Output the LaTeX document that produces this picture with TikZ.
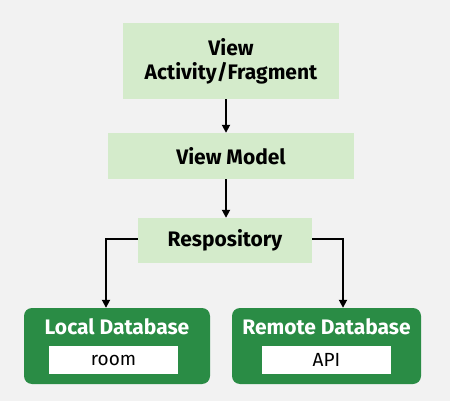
\documentclass[tikz,border=0pt]{standalone}
\usepackage{fontspec}
\setmainfont{Fira Sans}
\usetikzlibrary{arrows.meta,positioning}
\definecolor{pagebg}{HTML}{F2F2F2}
\definecolor{lightgreen}{HTML}{D4EBCB}
\definecolor{darkgreen}{HTML}{2A8C45}

\begin{document}
\begin{tikzpicture}[
    x=1pt, y=-1pt,
    >={Triangle[width=8pt,length=8pt]},
    layer/.style={
      fill=lightgreen,
      align=center,
      inner sep=0pt,
      font=\fontsize{21}{24}\selectfont\bfseries
    },
    store/.style={
      fill=darkgreen,
      rounded corners=8pt,
      inner sep=0pt,
      minimum height=76pt
    },
    storetitle/.style={
      text=white,
      inner sep=0pt,
      font=\fontsize{21}{24}\selectfont\bfseries
    },
    lib/.style={
      fill=white,
      inner sep=0pt,
      minimum width=129pt,
      minimum height=28pt,
      font=\fontsize{19}{22}\selectfont
    },
    flow/.style={->, line width=1.8pt, draw=black}
  ]
    \useasboundingbox[fill=pagebg] (0,0) rectangle (450,401);

    \node[layer, minimum width=216pt, minimum height=76pt] (view) at (231,61) {View\\Activity/Fragment};
    \node[layer, minimum width=246pt, minimum height=46pt] (vm) at (231,156) {View Model};
    \node[layer, minimum width=174pt, minimum height=45pt] (repo) at (225,240.5) {Respository};

    \node[store, minimum width=186pt] (local) at (117,346) {};
    \node[store, minimum width=189pt] (remote) at (326.5,346) {};
    \node[storetitle] (localtitle) at (117,327) {Local Database};
    \node[storetitle] (remotetitle) at (326.5,327) {Remote Database};
    \node[lib] (room) at (113.5,360) {room};
    \node[lib] (api) at (326.5,360) {API};

    \draw[flow] (view.south -| 226,0) -- (vm.north -| 226,0);
    \draw[flow] (vm.south -| 226,0) -- (repo.north -| 226,0);
    \draw[flow] (repo.west |- 0,239) -| (local.north -| 106,0);
    \draw[flow] (repo.east |- 0,239) -| (remote.north -| 343,0);
  \end{tikzpicture}
\end{document}
